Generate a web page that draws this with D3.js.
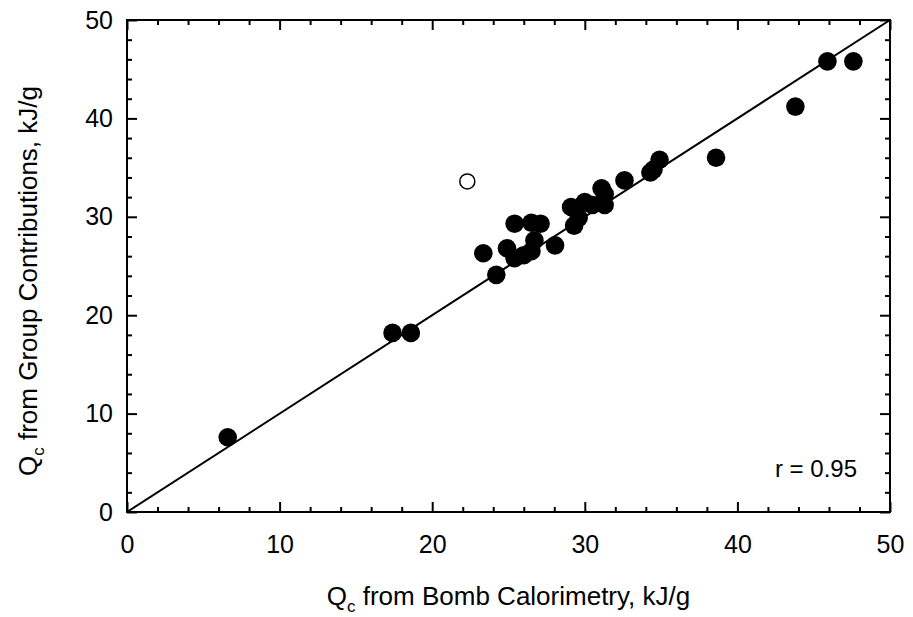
<!DOCTYPE html>
<html>
<head>
<meta charset="utf-8">
<script src="https://cdn.jsdelivr.net/npm/d3@7"></script>
<style>
  body { margin: 0; background: #fff; }
  svg { display: block; font-family: "Liberation Sans", Arial, Helvetica, sans-serif; }
  .axis path { display: none; }
  .axis line { stroke: #000; stroke-width: 2; }
  .axis text { font-size: 25px; fill: #000; font-family: "Liberation Sans", Arial, sans-serif; }
</style>
</head>
<body>
<div id="chart"></div>
<script>
// Qc from bomb calorimetry (x) vs group contributions (y), kJ/g
const filledPoints = [
  [6.6, 7.6], [17.4, 18.2], [18.6, 18.2], [23.35, 26.3], [24.2, 24.1],
  [24.9, 26.8], [25.4, 29.3], [25.4, 25.8], [26.0, 26.1], [26.5, 26.5],
  [26.5, 29.4], [26.7, 27.6], [27.1, 29.3], [28.05, 27.1], [29.1, 31.0],
  [29.3, 29.1], [29.6, 29.9], [30.0, 31.5], [30.5, 31.2], [31.1, 32.9],
  [31.3, 31.2], [31.3, 32.3], [32.6, 33.7], [34.3, 34.5], [34.5, 34.8],
  [34.9, 35.8], [38.6, 36.0], [43.8, 41.2], [45.9, 45.8], [47.6, 45.8]
];
const openPoints = [[22.3, 33.6]];
const fitLine = [[0, 0], [50, 50]];
const majorTicks = [0, 10, 20, 30, 40, 50];
const minorTicks = d3.range(0, 51, 2);
const rLabel = "r = 0.95";

const W = 913, H = 617;
const m = { top: 20, right: 23, bottom: 105, left: 127 };

const svg = d3.select("#chart").append("svg")
  .attr("width", W).attr("height", H);

const x = d3.scaleLinear().domain([0, 50]).range([m.left, W - m.right]);
const y = d3.scaleLinear().domain([0, 50]).range([H - m.bottom, m.top]);

// ── Axes (ticks inward on all four sides) ──
const pBottom = H - m.bottom, pTop = m.top, pLeft = m.left, pRight = W - m.right;

function minor(axisFn, pos, size) {
  svg.append("g").attr("class", "axis").attr("transform", pos)
    .call(axisFn.tickValues(minorTicks.filter(v => v % 10 !== 0)).tickSize(size).tickFormat(""));
}

svg.append("g").attr("class", "axis").attr("transform", `translate(0,${pBottom})`)
  .call(d3.axisBottom(x).tickValues(majorTicks).tickSize(-10).tickPadding(23).tickFormat(d3.format("d")));
minor(d3.axisBottom(x), `translate(0,${pBottom})`, -5);

svg.append("g").attr("class", "axis").attr("transform", `translate(0,${pTop})`)
  .call(d3.axisTop(x).tickValues(majorTicks).tickSize(-10).tickFormat(""));
minor(d3.axisTop(x), `translate(0,${pTop})`, -5);

svg.append("g").attr("class", "axis").attr("transform", `translate(${pLeft},0)`)
  .call(d3.axisLeft(y).tickValues(majorTicks).tickSize(-10).tickPadding(14).tickFormat(d3.format("d")));
minor(d3.axisLeft(y), `translate(${pLeft},0)`, -5);

svg.append("g").attr("class", "axis").attr("transform", `translate(${pRight},0)`)
  .call(d3.axisRight(y).tickValues(majorTicks).tickSize(-10).tickFormat(""));
minor(d3.axisRight(y), `translate(${pRight},0)`, -5);

// Frame
svg.append("rect")
  .attr("x", pLeft).attr("y", pTop)
  .attr("width", pRight - pLeft).attr("height", pBottom - pTop)
  .attr("fill", "none").attr("stroke", "#000").attr("stroke-width", 2);

// ── Fit line ──
svg.append("path")
  .datum(fitLine)
  .attr("d", d3.line().x(d => x(d[0])).y(d => y(d[1])))
  .attr("fill", "none").attr("stroke", "#000").attr("stroke-width", 2);

// ── Points ──
svg.append("g").selectAll("circle")
  .data(filledPoints).join("circle")
  .attr("cx", d => x(d[0])).attr("cy", d => y(d[1]))
  .attr("r", 9.3).attr("fill", "#000");

svg.append("g").selectAll("circle")
  .data(openPoints).join("circle")
  .attr("cx", d => x(d[0])).attr("cy", d => y(d[1]))
  .attr("r", 7.5).attr("fill", "#fff").attr("stroke", "#000").attr("stroke-width", 1.5);

// ── Labels ──
svg.append("text")
  .attr("x", pRight - 33).attr("y", y(3.6))
  .attr("text-anchor", "end").attr("font-size", 24)
  .text(rLabel);

const xt = svg.append("text")
  .attr("x", (pLeft + pRight) / 2).attr("y", 605)
  .attr("text-anchor", "middle").attr("font-size", 26);
xt.append("tspan").text("Q");
xt.append("tspan").attr("font-size", 17).attr("dy", 7).text("c");
xt.append("tspan").attr("dy", -7).text(" from Bomb Calorimetry, kJ/g");

const yt = svg.append("text")
  .attr("transform", `translate(37,${(pTop + pBottom) / 2 + 15}) rotate(-90)`)
  .attr("text-anchor", "middle").attr("font-size", 26);
yt.append("tspan").text("Q");
yt.append("tspan").attr("font-size", 17).attr("dy", 7).text("c");
yt.append("tspan").attr("dy", -7).text(" from Group Contributions, kJ/g");
</script>
</body>
</html>
